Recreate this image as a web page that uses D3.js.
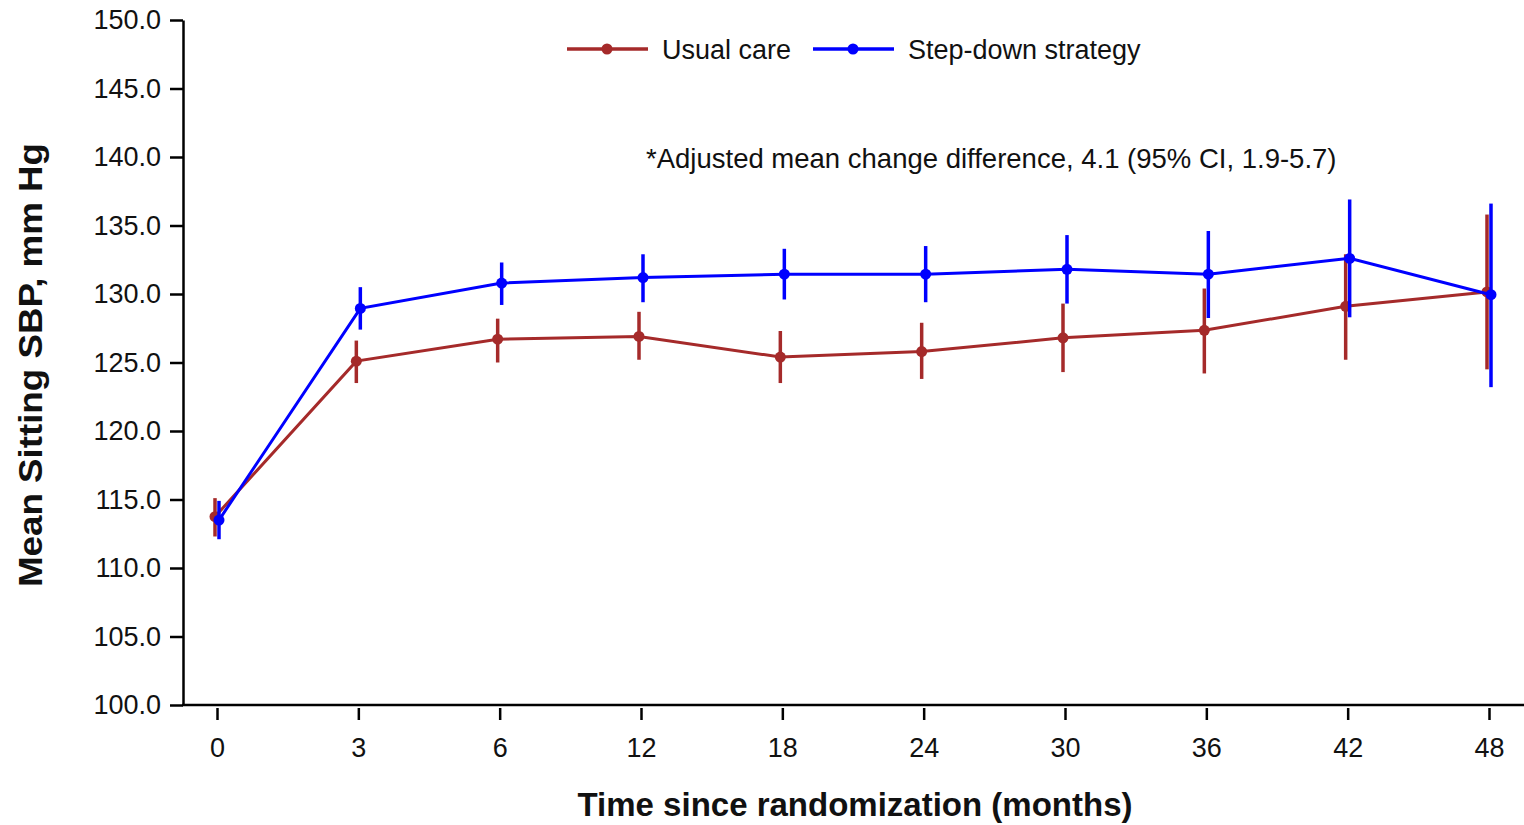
<!DOCTYPE html>
<html>
<head>
<meta charset="utf-8">
<script src="https://cdn.jsdelivr.net/npm/d3@7"></script>
<style>
body { margin: 0; background: #fff; }
text { font-family: "Liberation Sans", Arial, sans-serif; }
</style>
</head>
<body>
<svg id="chart" width="1524" height="825"></svg>
<script>
var months = ["0", "3", "6", "12", "18", "24", "30", "36", "42", "48"];
var yTicks = [100, 105, 110, 115, 120, 125, 130, 135, 140, 145, 150];

var usualMean = [113.75, 125.1, 126.7, 126.9, 125.4, 125.8, 126.8, 127.35, 129.1, 130.15];
var usualLow  = [112.3, 123.5, 125.0, 125.2, 123.5, 123.8, 124.3, 124.2, 125.2, 124.5];
var usualHigh = [115.1, 126.6, 128.2, 128.7, 127.3, 127.9, 129.3, 130.4, 132.9, 135.8];

var stepMean = [113.5, 128.95, 130.8, 131.2, 131.45, 131.45, 131.8, 131.45, 132.6, 129.95];
var stepLow  = [112.1, 127.4, 129.2, 129.4, 129.6, 129.4, 129.3, 128.25, 128.3, 123.2];
var stepHigh = [114.9, 130.5, 132.3, 132.9, 133.3, 133.5, 134.3, 134.6, 136.9, 136.6];

var svg = d3.select("#chart");

var x = d3.scalePoint().domain(months).range([217, 1489]);
var y = d3.scaleLinear().domain([100, 150]).range([705, 20]);

// y axis
svg.append("g")
    .attr("transform", "translate(183,0)")
    .call(d3.axisLeft(y).tickValues(yTicks).tickFormat(d3.format(".1f")).tickSize(13).tickSizeOuter(0))
    .call(function(g) {
        g.select(".domain").attr("stroke", "#000").attr("stroke-width", 2.5);
        g.selectAll(".tick line").attr("stroke", "#000").attr("stroke-width", 2.5);
        g.selectAll(".tick text").attr("x", -22).attr("fill", "#111")
            .style("font-size", "27px")
            .style("font-family", "Liberation Sans, Arial, sans-serif");
    });

// x axis line
svg.append("line")
    .attr("x1", 182).attr("x2", 1524)
    .attr("y1", 705).attr("y2", 705)
    .attr("stroke", "#000").attr("stroke-width", 2.5);

// x ticks (detached from axis line)
svg.append("g")
    .attr("transform", "translate(0,708)")
    .call(d3.axisBottom(x).tickSize(12).tickSizeOuter(0))
    .call(function(g) {
        g.select(".domain").remove();
        g.selectAll(".tick line").attr("stroke", "#000").attr("stroke-width", 2.5);
        g.selectAll(".tick text").attr("y", 30).attr("fill", "#111")
            .style("font-size", "27px")
            .style("font-family", "Liberation Sans, Arial, sans-serif");
    });

// axis titles
svg.append("text")
    .attr("transform", "translate(42,365) rotate(-90)")
    .attr("text-anchor", "middle")
    .attr("textLength", 444).attr("lengthAdjust", "spacingAndGlyphs")
    .style("font-size", "34px").attr("font-weight", "bold").attr("fill", "#111")
    .text("Mean Sitting SBP, mm Hg");

svg.append("text")
    .attr("x", 855).attr("y", 816)
    .attr("text-anchor", "middle")
    .style("font-size", "33px").attr("font-weight", "bold").attr("fill", "#111")
    .text("Time since randomization (months)");

// annotation
svg.append("text")
    .attr("x", 646).attr("y", 168)
    .style("font-size", "27.5px").attr("fill", "#111")
    .text("*Adjusted mean change difference, 4.1 (95% CI, 1.9-5.7)");

function drawSeries(mean, low, high, color, dx) {
    var data = months.map(function(m, i) {
        return { m: m, v: mean[i], lo: low[i], hi: high[i] };
    });
    var line = d3.line()
        .x(function(d) { return x(d.m) + dx; })
        .y(function(d) { return y(d.v); });

    var g = svg.append("g");
    g.selectAll(".err")
        .data(data)
        .enter().append("line")
        .attr("x1", function(d) { return x(d.m) + dx; })
        .attr("x2", function(d) { return x(d.m) + dx; })
        .attr("y1", function(d) { return y(d.lo); })
        .attr("y2", function(d) { return y(d.hi); })
        .attr("stroke", color).attr("stroke-width", 3.5);

    g.append("path")
        .datum(data)
        .attr("d", line)
        .attr("fill", "none")
        .attr("stroke", color).attr("stroke-width", 3);

    g.selectAll(".dot")
        .data(data)
        .enter().append("circle")
        .attr("cx", function(d) { return x(d.m) + dx; })
        .attr("cy", function(d) { return y(d.v); })
        .attr("r", 5.5)
        .attr("fill", color);
}

drawSeries(usualMean, usualLow, usualHigh, "#a52a2a", -2);
drawSeries(stepMean, stepLow, stepHigh, "#0000ff", 2);

// legend
var legend = [
    { name: "Usual care", color: "#a52a2a", x: 567 },
    { name: "Step-down strategy", color: "#0000ff", x: 813 }
];
var lg = svg.selectAll(".legend")
    .data(legend)
    .enter().append("g")
    .attr("transform", function(d) { return "translate(" + d.x + ",49)"; });
lg.append("line")
    .attr("x1", 0).attr("x2", 81)
    .attr("stroke", function(d) { return d.color; }).attr("stroke-width", 3.5);
lg.append("circle")
    .attr("cx", 40).attr("r", 5.5)
    .attr("fill", function(d) { return d.color; });
lg.append("text")
    .attr("x", 95).attr("y", 10)
    .style("font-size", "27px").attr("fill", "#111")
    .text(function(d) { return d.name; });
</script>
</body>
</html>
